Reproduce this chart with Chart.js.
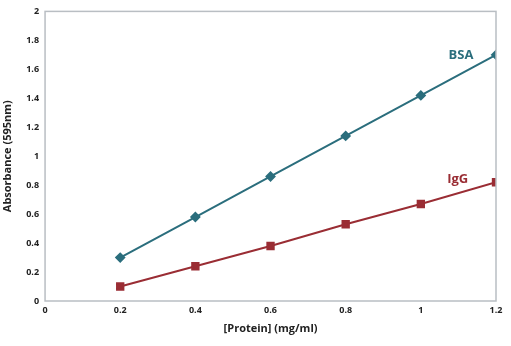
<!DOCTYPE html>
<html lang="en">
<head>
  <meta charset="UTF-8" />
  <title>Protein Assay Standard Curves</title>
  <style>
    html, body { margin: 0; padding: 0; background: #fff; }
    .wrap { width: 511px; height: 346px; }
  </style>
</head>
<body>
  <div class="wrap">
    <canvas id="chart"></canvas>
  </div>

  <script src="https://cdn.jsdelivr.net/npm/chart.js"></script>
  <script>
    const protein = [0.2, 0.4, 0.6, 0.8, 1.0, 1.2];
    const bsa = [0.30, 0.58, 0.86, 1.14, 1.42, 1.70];
    const igg = [0.10, 0.24, 0.38, 0.53, 0.67, 0.82];

    const seriesNames = ['BSA', 'IgG'];
    // where the series names sit, in data units
    const labelX = [1.107, 1.098];
    const labelY = [1.70, 0.84];

    const teal = '#2b6e7d';
    const red = '#9a2d34';
    const font = '"Open Sans", sans-serif';

    const toPoints = (ys) => protein.map((x, i) => ({ x, y: ys[i] }));
    const tickText = (v) => String(+v.toFixed(1));

    // grey box round the plot area plus the series names
    const boxAndLabels = {
      id: 'boxAndLabels',
      afterDraw(chart) {
        const { ctx, chartArea: a, scales } = chart;
        ctx.save();
        ctx.strokeStyle = '#b9bec3';
        ctx.lineWidth = 1.5;
        ctx.strokeRect(a.left, a.top, a.right - a.left, a.bottom - a.top);

        ctx.font = 'bold 13px ' + font;
        ctx.textAlign = 'center';
        ctx.textBaseline = 'middle';
        [teal, red].forEach((c, i) => {
          ctx.fillStyle = c;
          ctx.fillText(seriesNames[i],
            scales.x.getPixelForValue(labelX[i]),
            scales.y.getPixelForValue(labelY[i]));
        });
        ctx.restore();
      }
    };

    new Chart(document.getElementById('chart'), {
      type: 'scatter',
      data: {
        datasets: [
          {
            label: seriesNames[0],
            data: toPoints(bsa),
            showLine: true,
            borderColor: teal,
            backgroundColor: teal,
            borderWidth: 2,
            pointStyle: 'rectRot',
            pointRadius: 4,
            pointHoverRadius: 4
          },
          {
            label: seriesNames[1],
            data: toPoints(igg),
            showLine: true,
            borderColor: red,
            backgroundColor: red,
            borderWidth: 2,
            pointStyle: 'rect',
            pointRadius: 4.5,
            pointHoverRadius: 4.5
          }
        ]
      },
      options: {
        responsive: true,
        maintainAspectRatio: false,
        animation: false,
        layout: { padding: { left: 1, right: 15, top: 2, bottom: 11 } },
        plugins: {
          legend: { display: false },
          tooltip: { enabled: false }
        },
        scales: {
          x: {
            type: 'linear',
            min: 0,
            max: 1.2,
            ticks: {
              stepSize: 0.2,
              color: '#222',
              padding: 4,
              callback: tickText,
              font: { family: font, size: 9, weight: 'bold' }
            },
            grid: { display: false, drawTicks: false },
            border: { display: false },
            title: {
              display: true,
              text: '[Protein] (mg/ml)',
              color: '#222',
              padding: { top: 2, bottom: 0 },
              font: { family: font, size: 11, weight: 'bold' }
            }
          },
          y: {
            min: 0,
            max: 2,
            ticks: {
              stepSize: 0.2,
              color: '#222',
              padding: 6,
              callback: tickText,
              font: { family: font, size: 9, weight: 'bold' }
            },
            grid: { display: false, drawTicks: false },
            border: { display: false },
            title: {
              display: true,
              text: 'Absorbance (595nm)',
              color: '#222',
              padding: { top: 0, bottom: 6 },
              font: { family: font, size: 11, weight: 'bold' }
            }
          }
        }
      },
      plugins: [boxAndLabels]
    });
  </script>
</body>
</html>
